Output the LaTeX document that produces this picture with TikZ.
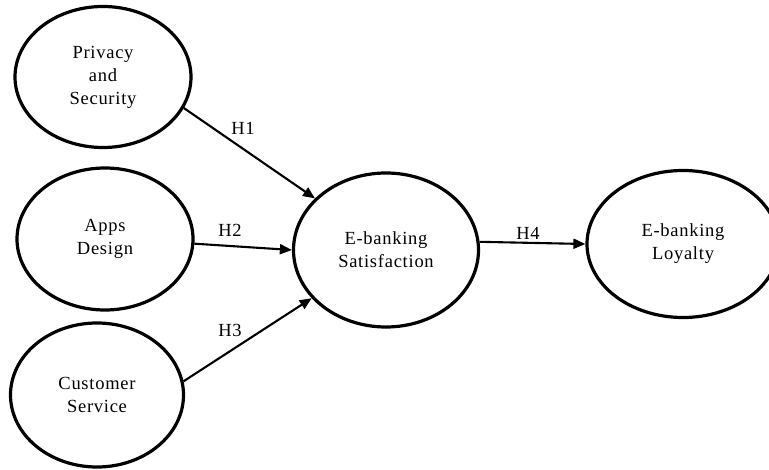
\documentclass[tikz,border=0pt]{standalone}
\usepackage{fontspec}
\setmainfont{Liberation Serif}[LetterSpace=4]
\usetikzlibrary{shapes.geometric,arrows.meta}
\begin{document}
\begin{tikzpicture}[x=1pt,y=-1pt,
  construct/.style={ellipse,draw=black,line width=3.2pt,inner sep=0pt,align=center,
    font=\fontsize{18.5}{23}\selectfont},
  path/.style={draw=black,line width=2.1pt,-{Triangle[length=12pt,width=10pt]}},
  hlabel/.style={font=\fontsize{18.5}{22}\selectfont,inner sep=0pt}]
\useasboundingbox (0,0) rectangle (769,470);
\node[construct,minimum width=176pt,minimum height=141pt] (ps) at (103,77) {Privacy\\and\\Security};
\node[construct,minimum width=176pt,minimum height=142pt] (ad) at (105,239) {Apps\\Design};
\node[construct,minimum width=173pt,minimum height=144pt] (cs) at (97,395) {Customer\\Service};
\node[construct,minimum width=185pt,minimum height=154pt] (sat) at (386,250) {E-banking\\Satisfaction};
\node[construct,minimum width=192pt,minimum height=147pt] (loy) at (683,244) {E-banking\\Loyalty};
\draw[path] (ps.-21) -- (sat.144);
\draw[path] (ad.-3) -- (sat.180);
\draw[path] (cs.9) -- (sat.213);
\draw[path] (sat.5) -- (loy.west);
\node[hlabel] (h1) at (243,128) {H1};
\node[hlabel] (h2) at (230,230) {H2};
\node[hlabel] (h3) at (230,330) {H3};
\node[hlabel] (h4) at (528,233) {H4};
\end{tikzpicture}
\end{document}
